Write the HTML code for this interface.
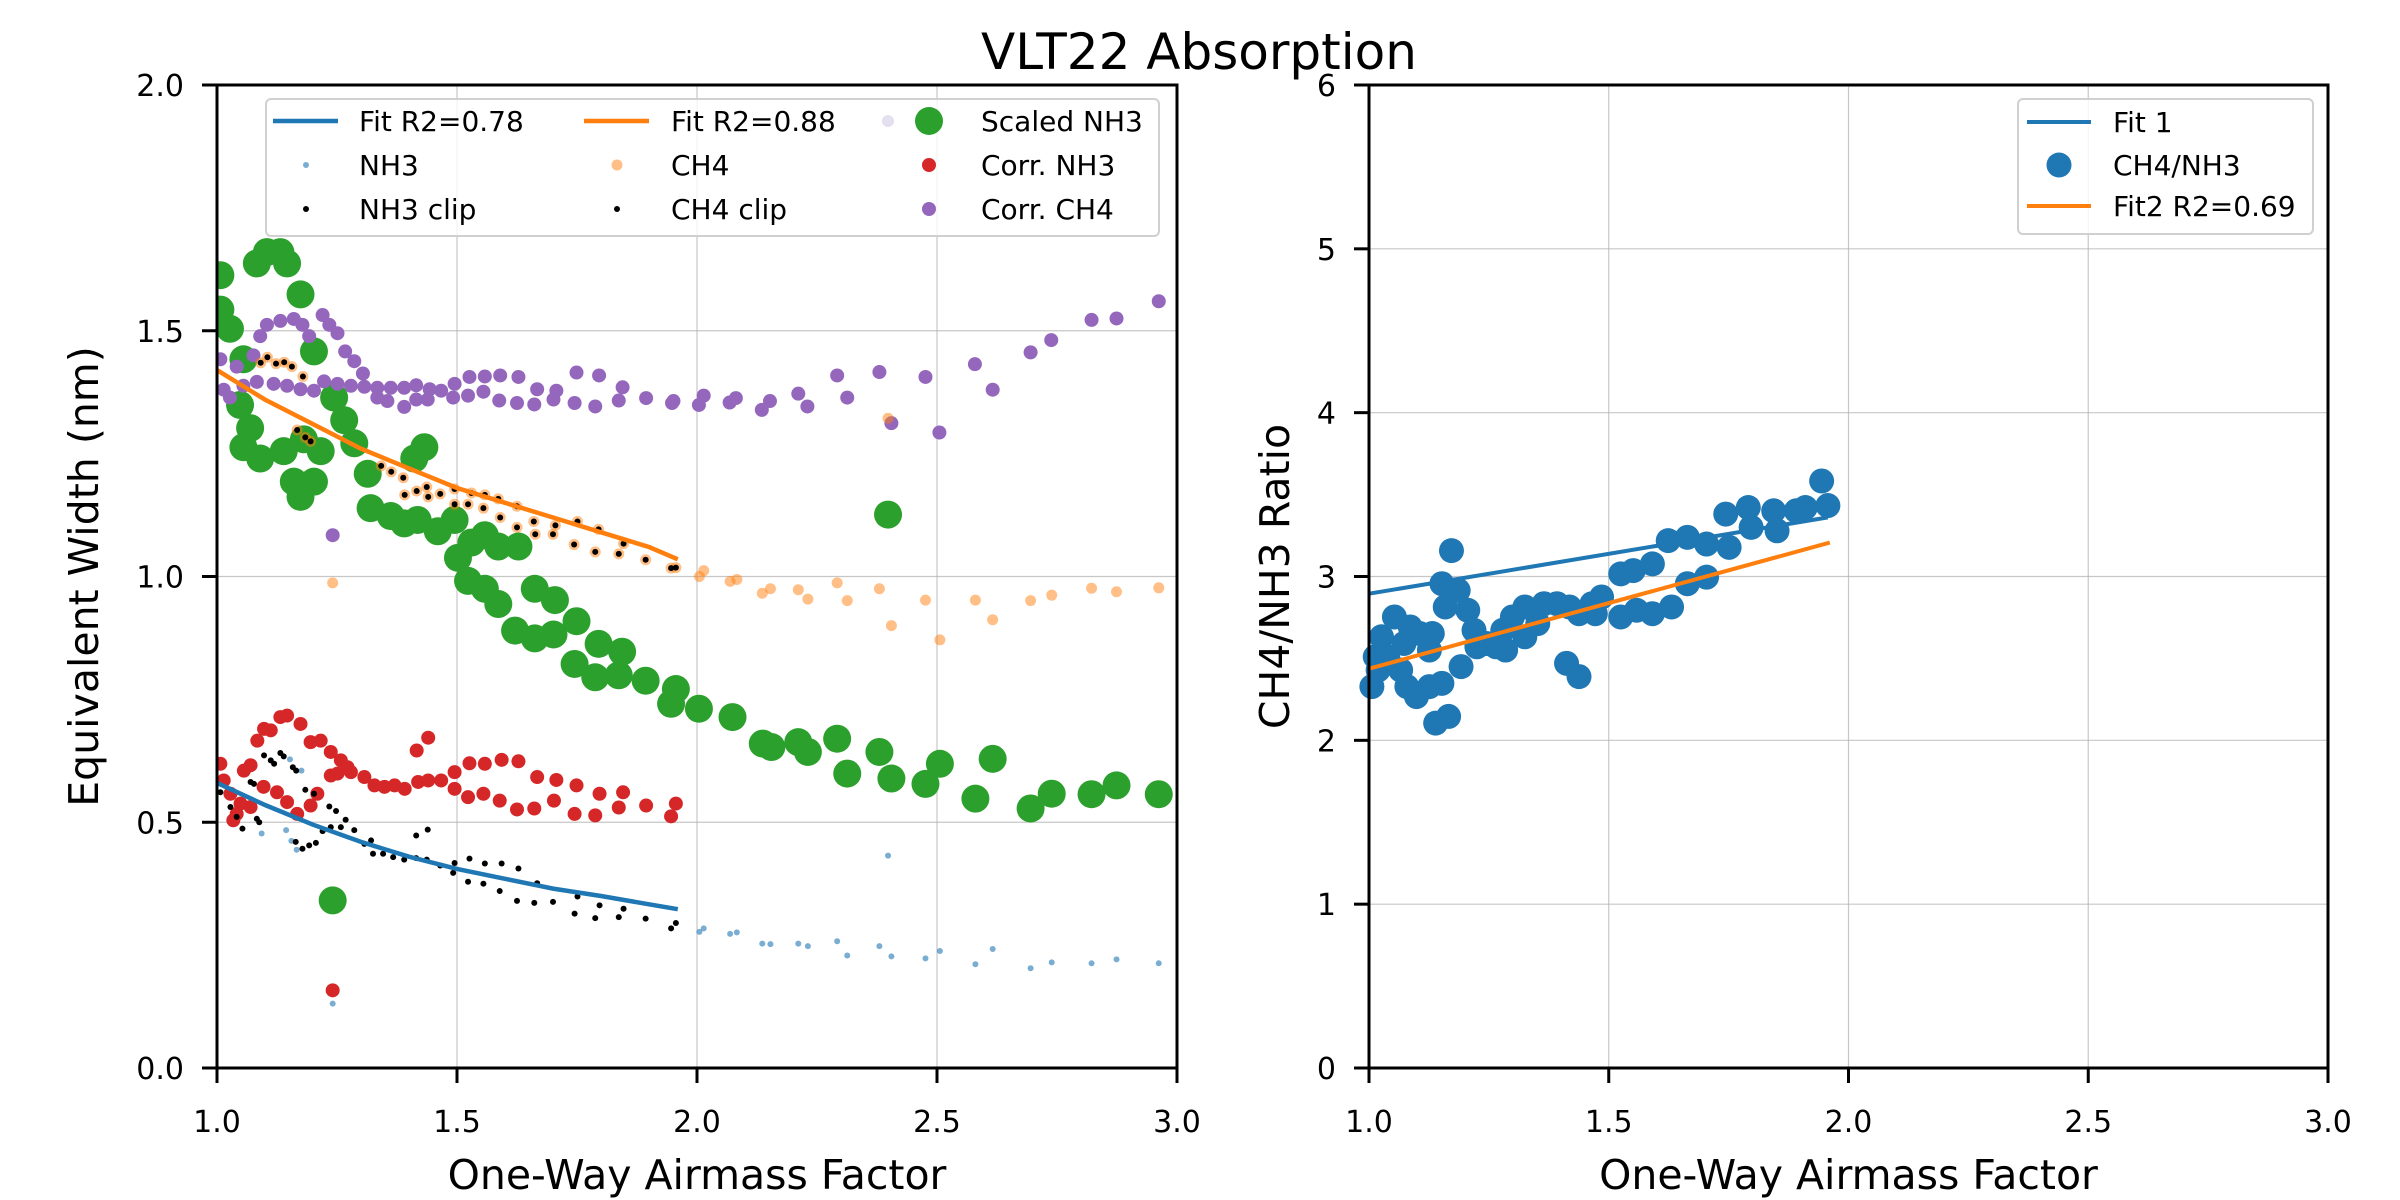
<!DOCTYPE html>
<html><head><meta charset="utf-8"><style>
html,body{margin:0;padding:0;background:#fff;}
svg{display:block;font-family:"DejaVu Sans","Liberation Sans",sans-serif;}
</style></head><body>
<svg id="chart" width="2400" height="1200" viewBox="0 0 2400 1200">
<text x="1199" y="69" font-size="50" text-anchor="middle">VLT22 Absorption</text>
<g id="left"></g>
<g id="right"></g>
</svg>
<script>
// ---- Left panel data ----
const nh3X=[2.005,2.014,2.069,2.083,2.136,2.153,2.211,2.231,2.292,2.313,2.380,2.398,2.405,2.476,2.506,2.580,2.616,2.695,2.739,2.822,2.874,2.962,1.241,1.093,1.155,1.166,1.144,1.152,1.176];
const nh3Y=[0.277,0.284,0.273,0.276,0.253,0.252,0.253,0.248,0.258,0.229,0.248,0.432,0.227,0.223,0.238,0.211,0.242,0.203,0.215,0.213,0.221,0.213,0.131,0.477,0.462,0.444,0.484,0.628,0.605];
const ch4X=[2.005,2.014,2.069,2.083,2.136,2.153,2.211,2.231,2.292,2.313,2.380,2.398,2.405,2.476,2.506,2.580,2.616,2.695,2.739,2.822,2.874,2.962,1.241];
const ch4Y=[1.000,1.012,0.990,0.994,0.966,0.975,0.973,0.954,0.987,0.951,0.975,1.322,0.900,0.952,0.871,0.952,0.912,0.951,0.962,0.976,0.969,0.977,0.987];
const ch4ClipX=[1.091,1.105,1.123,1.140,1.156,1.179,1.167,1.184,1.195,1.342,1.363,1.388,1.391,1.416,1.437,1.440,1.465,1.495,1.495,1.523,1.530,1.555,1.558,1.586,1.590,1.625,1.625,1.660,1.663,1.700,1.705,1.744,1.751,1.788,1.795,1.837,1.847,1.893,1.946,1.956];
const ch4ClipY=[1.435,1.446,1.433,1.436,1.427,1.407,1.298,1.283,1.275,1.225,1.213,1.201,1.166,1.174,1.182,1.162,1.168,1.178,1.147,1.147,1.170,1.139,1.166,1.158,1.120,1.143,1.100,1.112,1.086,1.086,1.104,1.065,1.112,1.050,1.096,1.046,1.067,1.034,1.017,1.018];
const nh3ClipX=[1.041,1.053,1.070,1.077,1.088,1.098,1.112,1.119,1.132,1.139,1.158,1.165,1.184,1.202,1.220,1.234,1.248,1.237,1.258,1.268,1.286,1.307,1.321,1.325,1.346,1.367,1.390,1.415,1.415,1.439,1.437,1.465,1.495,1.492,1.526,1.558,1.523,1.555,1.593,1.589,1.628,1.625,1.661,1.667,1.700,1.751,1.745,1.788,1.797,1.837,1.847,1.893,1.946,1.956,1.178,1.192,1.206,1.164,1.083,1.028,1.007];
const nh3ClipY=[0.511,0.487,0.582,0.578,0.500,0.636,0.626,0.619,0.641,0.634,0.612,0.605,0.566,0.558,0.482,0.532,0.523,0.490,0.490,0.505,0.484,0.456,0.463,0.436,0.436,0.429,0.424,0.427,0.473,0.485,0.424,0.412,0.417,0.397,0.426,0.416,0.379,0.375,0.416,0.360,0.406,0.340,0.336,0.376,0.338,0.349,0.314,0.305,0.331,0.307,0.324,0.304,0.284,0.295,0.446,0.453,0.458,0.460,0.507,0.531,0.561];
const scaledX=[1.007,1.007,1.027,1.055,1.083,1.104,1.132,1.146,1.174,1.202,1.244,1.265,1.286,1.048,1.069,1.055,1.090,1.139,1.181,1.216,1.160,1.202,1.174,1.314,1.320,1.362,1.390,1.418,1.432,1.411,1.460,1.495,1.502,1.530,1.558,1.586,1.628,1.523,1.558,1.586,1.662,1.704,1.621,1.662,1.701,1.749,1.795,1.844,2.398,1.745,1.788,1.837,1.893,1.956,1.946,2.004,2.074,2.137,2.155,2.211,2.231,2.292,2.313,2.380,2.405,2.476,2.506,2.580,2.616,2.695,2.739,2.822,2.874,2.962,1.241];
const scaledY=[1.613,1.543,1.504,1.442,1.637,1.660,1.660,1.637,1.574,1.458,1.364,1.318,1.271,1.349,1.302,1.263,1.240,1.255,1.279,1.255,1.193,1.193,1.162,1.209,1.139,1.123,1.108,1.115,1.263,1.240,1.092,1.115,1.038,1.069,1.084,1.061,1.061,0.991,0.975,0.944,0.975,0.952,0.890,0.874,0.882,0.909,0.863,0.847,1.126,0.822,0.795,0.799,0.788,0.771,0.741,0.731,0.714,0.660,0.653,0.663,0.643,0.670,0.599,0.643,0.589,0.578,0.619,0.548,0.629,0.528,0.558,0.557,0.575,0.557,0.341];
const corrNh3X=[1.007,1.014,1.028,1.049,1.056,1.070,1.084,1.098,1.112,1.132,1.146,1.174,1.195,1.216,1.237,1.258,1.272,1.237,1.251,1.279,1.307,1.328,1.349,1.370,1.391,1.419,1.440,1.467,1.495,1.495,1.526,1.558,1.593,1.628,1.523,1.555,1.589,1.625,1.661,1.702,1.745,1.788,1.667,1.707,1.749,1.797,1.846,1.837,1.894,1.946,1.956,1.416,1.440,1.125,1.146,1.167,1.195,1.209,1.097,1.070,1.034,1.241,1.041];
const corrNh3Y=[0.619,0.585,0.558,0.538,0.605,0.616,0.666,0.690,0.687,0.714,0.717,0.700,0.663,0.666,0.643,0.626,0.612,0.595,0.599,0.602,0.592,0.575,0.572,0.575,0.568,0.582,0.585,0.585,0.602,0.568,0.620,0.619,0.627,0.624,0.551,0.558,0.544,0.526,0.528,0.544,0.517,0.514,0.592,0.586,0.575,0.558,0.561,0.530,0.534,0.512,0.538,0.646,0.672,0.561,0.541,0.517,0.534,0.558,0.572,0.531,0.504,0.158,0.517];
const corrCh4X=[1.007,1.041,1.076,1.090,1.104,1.132,1.160,1.178,1.192,1.220,1.234,1.251,1.267,1.286,1.304,1.055,1.083,1.118,1.146,1.174,1.202,1.223,1.251,1.279,1.307,1.334,1.362,1.390,1.415,1.443,1.467,1.495,1.526,1.558,1.590,1.628,1.667,1.707,1.749,1.796,1.845,1.894,1.951,2.014,2.081,2.152,2.211,2.292,2.380,2.476,2.579,2.695,2.738,2.822,2.874,2.962,1.334,1.355,1.390,1.415,1.439,1.492,1.523,1.555,1.588,1.625,1.661,1.701,1.745,1.788,1.837,1.948,2.004,2.068,2.135,2.230,2.313,2.405,2.505,2.616,1.241,1.014,1.027];
const corrCh4Y=[1.442,1.427,1.450,1.489,1.512,1.520,1.524,1.512,1.489,1.532,1.512,1.495,1.458,1.438,1.413,1.388,1.396,1.392,1.388,1.381,1.378,1.397,1.392,1.388,1.386,1.384,1.384,1.384,1.389,1.381,1.378,1.392,1.406,1.407,1.409,1.406,1.381,1.378,1.415,1.409,1.385,1.363,1.357,1.368,1.363,1.357,1.372,1.409,1.416,1.406,1.432,1.456,1.481,1.522,1.525,1.560,1.364,1.357,1.345,1.360,1.360,1.364,1.368,1.376,1.358,1.353,1.350,1.360,1.353,1.346,1.358,1.353,1.349,1.354,1.339,1.346,1.364,1.312,1.293,1.380,1.084,1.380,1.364];
const fitX=[1.0,1.1,1.2,1.3,1.4,1.5,1.6,1.7,1.8,1.9,1.96];
const fitNh3Y=[0.58,0.535,0.495,0.46,0.43,0.405,0.385,0.365,0.35,0.333,0.323];
const fitCh4Y=[1.42,1.36,1.31,1.26,1.22,1.18,1.15,1.12,1.09,1.06,1.035];
const leftXTicks=[1.0,1.5,2.0,2.5,3.0];
const leftXTickLabels=["1.0","1.5","2.0","2.5","3.0"];
const leftYTicks=[0,0.5,1.0,1.5,2.0];
const leftYTickLabels=["0.0","0.5","1.0","1.5","2.0"];
// ---- Right panel data ----
const ratioX=[1.006,1.013,1.026,1.053,1.073,1.086,1.106,1.132,1.126,1.066,1.079,1.099,1.126,1.152,1.139,1.166,1.152,1.172,1.159,1.186,1.206,1.219,1.192,1.225,1.265,1.285,1.279,1.299,1.325,1.325,1.365,1.392,1.418,1.438,1.465,1.485,1.472,1.412,1.438,1.525,1.551,1.525,1.558,1.591,1.631,1.591,1.624,1.664,1.704,1.664,1.704,1.744,1.751,1.791,1.797,1.844,1.851,1.891,1.944,1.957,1.910,1.019,1.039,1.245,1.352];
const ratioY=[2.328,2.510,2.632,2.753,2.591,2.692,2.652,2.652,2.551,2.429,2.328,2.267,2.328,2.348,2.105,2.146,2.956,3.158,2.814,2.915,2.794,2.672,2.450,2.571,2.571,2.551,2.672,2.753,2.814,2.632,2.834,2.834,2.814,2.773,2.834,2.875,2.773,2.470,2.389,3.016,3.036,2.753,2.794,2.773,2.814,3.077,3.219,3.239,3.198,2.956,2.996,3.381,3.178,3.421,3.300,3.401,3.279,3.401,3.583,3.433,3.421,2.429,2.510,2.591,2.713];
const fit1X=[1.0,1.957];
const fit1Y=[2.895,3.361];
const fit2X=[1.0,1.961];
const fit2Y=[2.437,3.207];
const rightXTicks=[1.0,1.5,2.0,2.5,3.0];
const rightXTickLabels=["1.0","1.5","2.0","2.5","3.0"];
const rightYTicks=[0,1,2,3,4,5,6];
const rightYTickLabels=["0","1","2","3","4","5","6"];

const NS="http://www.w3.org/2000/svg";
function mk(parent,tag,attrs){const e=document.createElementNS(NS,tag);for(const k in attrs)e.setAttribute(k,attrs[k]);parent.appendChild(e);return e;}

function axes(g,L,R,T,B,xmin,xmax,ymin,ymax){
  return {x:v=>L+(v-xmin)/(xmax-xmin)*(R-L), y:v=>B-(v-ymin)/(ymax-ymin)*(B-T), L,R,T,B};
}
function drawFrame(g,ax,xt,xtl,yt,ytl,xlabel,ylabel,ylabX,pfx){
  xt.forEach((v,i)=>{
    const gl=mk(g,'line',{x1:ax.x(v),x2:ax.x(v),y1:ax.T,y2:ax.B,stroke:'#b0b0b0','stroke-width':1.2,opacity:0.7});
    
    
    const tk=mk(g,'line',{x1:ax.x(v),x2:ax.x(v),y1:ax.B,y2:ax.B+15,stroke:'#000','stroke-width':3});
    
    
    const t=mk(g,'text',{x:ax.x(v),y:1132,'font-size':30,'text-anchor':'middle'});t.textContent=xtl[i];
    
    
  });
  yt.forEach((v,i)=>{
    const gl=mk(g,'line',{x1:ax.L,x2:ax.R,y1:ax.y(v),y2:ax.y(v),stroke:'#b0b0b0','stroke-width':1.2,opacity:0.7});
    
    
    const tk=mk(g,'line',{x1:ax.L-15,x2:ax.L,y1:ax.y(v),y2:ax.y(v),stroke:'#000','stroke-width':3});
    
    
    const t=mk(g,'text',{x:ax.L-33,y:ax.y(v)+11,'font-size':30,'text-anchor':'end'});t.textContent=ytl[i];
    
    
  });
  const xl=mk(g,'text',{x:(ax.L+ax.R)/2,y:1189,'font-size':41,'text-anchor':'middle'});xl.textContent=xlabel;
  
  
  const cy=(ax.T+ax.B)/2;
  const yl=mk(g,'text',{x:ylabX,y:cy,'font-size':41,'text-anchor':'middle',transform:`rotate(-90 ${ylabX} ${cy})`});yl.textContent=ylabel;
  
  
}
function scatter(g,ax,xs,ys,r,fill,op,name){
  const s=mk(g,'g',{});
  
  
  xs.forEach((v,i)=>{
    const c=mk(s,'circle',{cx:ax.x(v),cy:ax.y(ys[i]),r:r,fill:fill,'fill-opacity':op});
    
    
  });
}
function line(g,ax,xs,ys,color,w,name){
  const d=xs.map((v,i)=>(i?'L':'M')+ax.x(v).toFixed(1)+' '+ax.y(ys[i]).toFixed(1)).join(' ');
  const p=mk(g,'path',{d:d,fill:'none',stroke:color,'stroke-width':w});
  
  
}
function spine(g,ax,pfx){
  const r=mk(g,'rect',{x:ax.L,y:ax.T,width:ax.R-ax.L,height:ax.B-ax.T,fill:'none',stroke:'#000','stroke-width':3});
  
  
}

// Left
const gl=document.getElementById('left');
const axL=axes(gl,217,1177,85,1068,1,3,0,2);
drawFrame(gl,axL,leftXTicks,leftXTickLabels,leftYTicks,leftYTickLabels,'One-Way Airmass Factor','Equivalent Width (nm)',98,'left-');
const clip=mk(gl,'clipPath',{id:'cl'});mk(clip,'rect',{x:217,y:85,width:960,height:983});
const pl=mk(gl,'g',{'clip-path':'url(#cl)'});


scatter(pl,axL,scaledX,scaledY,14,'#2ca02c',1,'scaled-nh3');
scatter(pl,axL,corrNh3X,corrNh3Y,7,'#d62728',1,'corr-nh3');
scatter(pl,axL,corrCh4X,corrCh4Y,7,'#9467bd',1,'corr-ch4');
scatter(pl,axL,nh3X,nh3Y,3,'#1f77b4',0.6,'nh3');
scatter(pl,axL,ch4X,ch4Y,5.5,'#ff7f0e',0.5,'ch4');
scatter(pl,axL,ch4ClipX,ch4ClipY,5.5,'#ff7f0e',0.5,'ch4-under-clip');
scatter(pl,axL,nh3ClipX,nh3ClipY,3,'#000',1,'nh3-clip');
scatter(pl,axL,ch4ClipX,ch4ClipY,3,'#000',1,'ch4-clip');
line(pl,axL,fitX,fitNh3Y,'#1f77b4',4.5,'fit-nh3-line');
line(pl,axL,fitX,fitCh4Y,'#ff7f0e',4.5,'fit-ch4-line');
spine(gl,axL,'left-');

// Left legend
const lg=mk(gl,'g',{});


mk(lg,'rect',{x:266,y:99,width:893,height:137,rx:5,fill:'#fff','fill-opacity':0.8,stroke:'#d0d0d0','stroke-width':2});
const legL=[
 ['line','#1f77b4',1,306,121,'Fit R2=0.78',359],
 ['dot','#1f77b4',0.6,306,165,'NH3',359,3],
 ['dot','#000',1,306,209,'NH3 clip',359,3],
 ['line','#ff7f0e',1,617,121,'Fit R2=0.88',671],
 ['dot','#ff7f0e',0.5,617,165,'CH4',671,5.5],
 ['dot','#000',1,617,209,'CH4 clip',671,3],
 ['dot','#2ca02c',1,929,121,'Scaled NH3',981,14],
 ['dot','#d62728',1,929,165,'Corr. NH3',981,7],
 ['dot','#9467bd',1,929,209,'Corr. CH4',981,7]];
legL.forEach(e=>{
  const it=mk(lg,'g',{});
  
  
  if(e[0]=='line') mk(it,'line',{x1:e[3]-33,x2:e[3]+32,y1:e[4],y2:e[4],stroke:e[1],'stroke-width':4.5});
  else mk(it,'circle',{cx:e[3],cy:e[4],r:e[7],fill:e[1],'fill-opacity':e[2]});
  const t=mk(it,'text',{x:e[6],y:e[4]+10,'font-size':28});t.textContent=e[5];
});
mk(lg,'circle',{cx:888,cy:121,r:6,fill:'#e4e0f0'});

// Right
const gr=document.getElementById('right');
const axR=axes(gr,1369,2328,85,1068,1,3,0,6);
drawFrame(gr,axR,rightXTicks,rightXTickLabels,rightYTicks,rightYTickLabels,'One-Way Airmass Factor','CH4/NH3 Ratio',1289,'right-');
const pr=mk(gr,'g',{});


line(pr,axR,fit1X,fit1Y,'#1f77b4',4,'fit1-line');
scatter(pr,axR,ratioX,ratioY,12.5,'#1f77b4',1,'ch4-nh3-ratio');
line(pr,axR,fit2X,fit2Y,'#ff7f0e',4,'fit2-line');
spine(gr,axR,'right-');
const rg=mk(gr,'g',{});


mk(rg,'rect',{x:2018,y:99,width:295,height:135,rx:5,fill:'#fff','fill-opacity':0.8,stroke:'#d0d0d0','stroke-width':2});
[['line','#1f77b4',122,'Fit 1'],['dot','#1f77b4',165,'CH4/NH3'],['line','#ff7f0e',206,'Fit2 R2=0.69']].forEach(e=>{
  const it=mk(rg,'g',{});
  
  
  if(e[0]=='line') mk(it,'line',{x1:2027,x2:2091,y1:e[2],y2:e[2],stroke:e[1],'stroke-width':4});
  else mk(it,'circle',{cx:2059,cy:e[2],r:12.5,fill:e[1]});
  const t=mk(it,'text',{x:2113,y:e[2]+10,'font-size':28});t.textContent=e[3];
});
</script>
</body></html>
